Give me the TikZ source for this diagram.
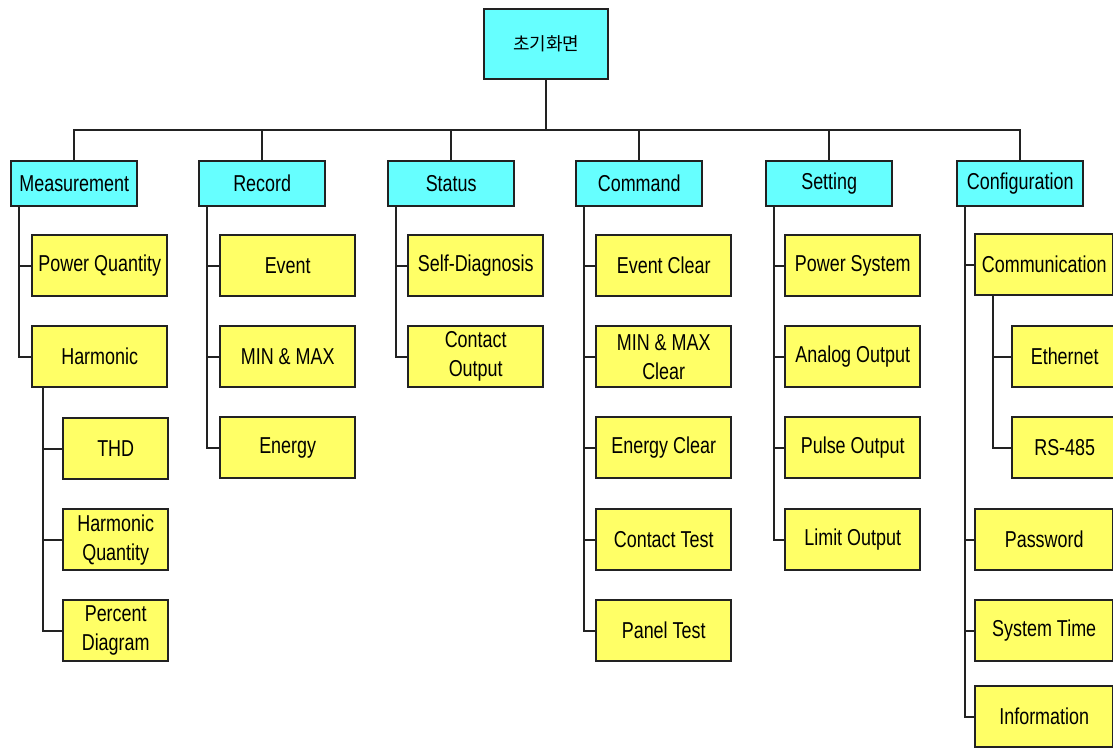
\documentclass[tikz,border=0pt]{standalone}
\usepackage{fontspec}
\setmainfont{Liberation Sans}[FakeStretch=0.78]
\newfontfamily\krfont{Noto Sans CJK KR}
\definecolor{cy}{HTML}{66FFFF}
\definecolor{ylw}{HTML}{FFFF66}
\definecolor{ln}{HTML}{222222}
\begin{document}
\begin{tikzpicture}[x=1pt,y=-1pt,
  box/.style={draw=ln, line width=2.4pt, fill=ylw, minimum height=61pt, minimum width=135pt,
    anchor=north west, inner sep=0pt, align=center, font=\fontsize{23}{29}\selectfont},
  subbox/.style={box, minimum width=105pt},
  cfgbox/.style={box, minimum width=138pt},
  topbox/.style={box, fill=cy, minimum width=126pt, minimum height=45pt},
  rootbox/.style={box, fill=cy, minimum width=124pt, minimum height=70pt, font=\krfont\fontsize{18}{20}\selectfont},
  link/.style={draw=ln, line width=2.4pt, line join=miter}]
\useasboundingbox (0,0) rectangle (1113,749);
\clip (0,0) rectangle (1113,749);
\coordinate (bus) at (0,130);
% root
\node[rootbox] (r) at (483,8) {초기화면};
% level 1
\node[topbox] (m) at (10,160) {Measurement};
\node[topbox] (rec) at (198,160) {Record};
\node[topbox] (st) at (387,160) {Status};
\node[topbox] (cmd) at (575,160) {Command};
\node[topbox] (set) at (765,160) {Setting};
\node[topbox] (cfg) at (956,160) {Configuration};
% measurement children
\node[box] (pq) at (31,234) {Power Quantity};
\node[box] (har) at (31,325) {Harmonic};
\node[subbox] (thd) at (62,417) {THD};
\node[subbox] (hq) at (62,508) {Harmonic\\Quantity};
\node[subbox] (pd) at (62,599) {Percent\\Diagram};
% record children
\node[box] (ev) at (219,234) {Event};
\node[box] (mm) at (219,325) {MIN \& MAX};
\node[box] (en) at (219,416) {Energy};
% status children
\node[box] (sd) at (407,234) {Self-Diagnosis};
\node[box] (co) at (407,325) {Contact\\Output};
% command children
\node[box] (ec) at (595,234) {Event Clear};
\node[box] (mmc) at (595,325) {MIN \& MAX\\Clear};
\node[box] (enc) at (595,416) {Energy Clear};
\node[box] (ct) at (595,508) {Contact Test};
\node[box] (pt) at (595,599) {Panel Test};
% setting children
\node[box] (ps) at (784,234) {Power System};
\node[box] (ao) at (784,325) {Analog Output};
\node[box] (po) at (784,416) {Pulse Output};
\node[box] (lo) at (784,508) {Limit Output};
% configuration children
\node[cfgbox] (com) at (974,233) {Communication};
\node[subbox] (eth) at (1011,325) {Ethernet};
\node[subbox] (rs) at (1011,416) {RS-485};
\node[cfgbox] (pw) at (974,508) {Password};
\node[cfgbox] (stime) at (974,599) {System Time};
\node[cfgbox] (info) at (974,685) {Information};
% connectors: root to level 1
\draw[link] (r.south) -- (r.south |- bus);
\draw[link] (m.north) -- (m.north |- bus) -- (cfg.north |- bus) -- (cfg.north);
\foreach \n in {rec,st,cmd,set} \draw[link] (\n.north) -- (\n.north |- bus);
% level 1 to level 2
\foreach \p/\c in {m/pq,m/har,rec/ev,rec/mm,rec/en,st/sd,st/co,cmd/ec,cmd/mmc,cmd/enc,cmd/ct,cmd/pt,set/ps,set/ao,set/po,set/lo,cfg/com,cfg/pw,cfg/stime,cfg/info}
  \draw[link] ([xshift=9pt]\p.south west) |- (\c.west);
% level 2 to level 3
\foreach \c in {thd,hq,pd} \draw[link] ([xshift=12pt]har.south west) |- (\c.west);
\foreach \c in {eth,rs} \draw[link] ([xshift=19pt]com.south west) |- (\c.west);
\end{tikzpicture}
\end{document}
